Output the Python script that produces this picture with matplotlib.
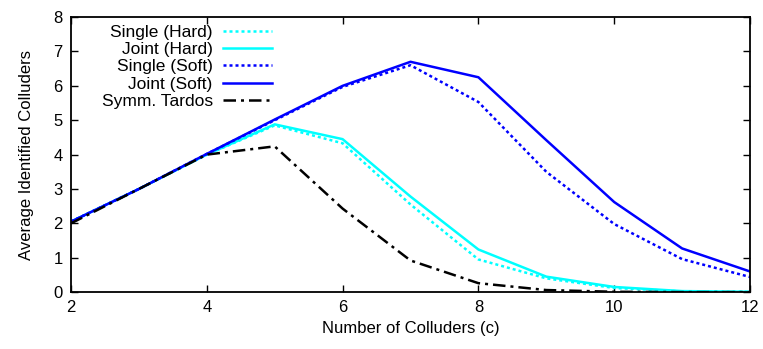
import matplotlib
matplotlib.use("Agg")
import matplotlib.pyplot as plt

plt.rcParams['font.family'] = ['Liberation Sans', 'DejaVu Sans']

c = [2, 3, 4, 5, 6, 7, 8, 9, 10, 11, 12]
single_hard = [2.05, 3.0, 4.0, 4.85, 4.33, 2.55, 0.95, 0.40, 0.12, 0.02, 0.01]
joint_hard = [2.05, 3.0, 4.0, 4.88, 4.45, 2.78, 1.24, 0.45, 0.15, 0.03, 0.01]
single_soft = [2.05, 3.0, 4.02, 5.0, 5.97, 6.6, 5.53, 3.5, 1.98, 0.96, 0.44]
joint_soft = [2.05, 3.0, 4.02, 5.02, 6.0, 6.7, 6.25, 4.42, 2.62, 1.27, 0.6]
tardos = [2.0, 3.0, 4.0, 4.24, 2.43, 0.92, 0.26, 0.06, 0.01, 0.0, 0.0]

fig = plt.figure(figsize=(7.63, 3.49), dpi=100)
ax = fig.add_axes([0.093, 0.163, 0.890, 0.788])

lw = 1.8
ax.plot(c, single_hard, color='#00ffff', lw=lw, ls=(0, (1.2, 1.2)), label='Single (Hard)')
ax.plot(c, joint_hard, color='#00ffff', lw=lw, ls='-', label='Joint (Hard)')
ax.plot(c, single_soft, color='#0000ff', lw=lw, ls=(0, (1.2, 1.2)), label='Single (Soft)')
ax.plot(c, joint_soft, color='#0000ff', lw=lw, ls='-', label='Joint (Soft)')
ax.plot(c, tardos, color='black', lw=lw, ls=(0, (5, 2, 1.2, 2)), label='Symm. Tardos')

ax.set_xlim(2, 12)
ax.set_ylim(0, 8)
ax.set_xticks([2, 4, 6, 8, 10, 12])
ax.set_yticks(range(0, 9))
ax.tick_params(direction='in', top=True, right=True, labelsize=12, length=5, width=1, pad=6)
for s in ax.spines.values():
    s.set_linewidth(1.3)
ax.set_xlabel('Number of Colluders (c)', fontsize=12, labelpad=4)
ax.set_ylabel('Average Identified Colluders', fontsize=12, labelpad=14)

leg = ax.legend(loc='upper left', bbox_to_anchor=(0.045, 0.972), frameon=False, markerfirst=False,
                fontsize=12.5, handlelength=2.8, labelspacing=0.12, handletextpad=0.6,
                borderaxespad=0.0, borderpad=0.0)
for t in leg.get_texts():
    t.set_ha('right')
leg._legend_box.align = 'right'

fig.savefig('out.png', dpi=100)
